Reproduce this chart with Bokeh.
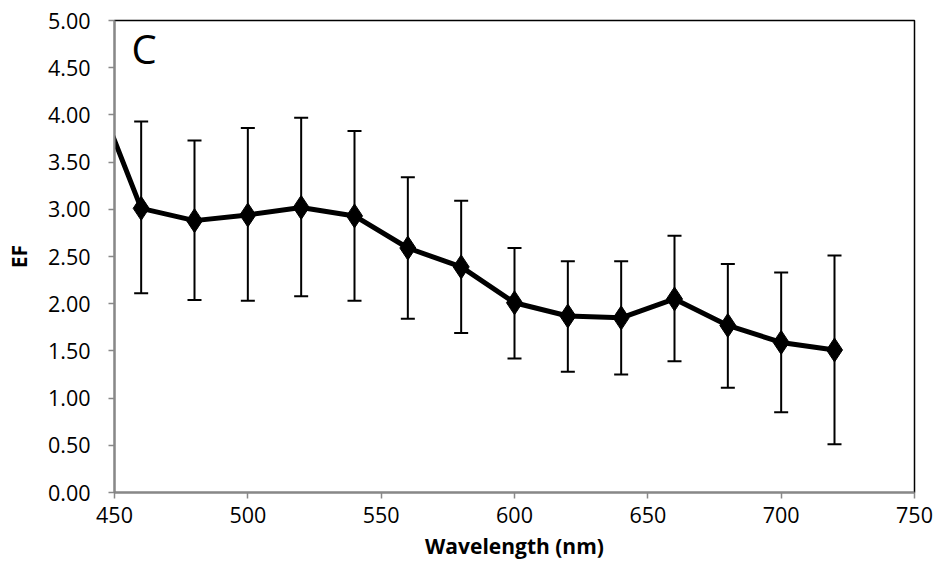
from bokeh.plotting import figure
from bokeh.models import ColumnDataSource, Whisker, Range1d, FixedTicker, Label, CustomJSTickFormatter
from bokeh.embed import file_html
from bokeh.resources import INLINE

wavelength = [440, 460, 480, 500, 520, 540, 560, 580, 600, 620, 640, 660, 680, 700, 720]
ef = [4.45, 3.01, 2.88, 2.94, 3.02, 2.93, 2.59, 2.39, 2.01, 1.87, 1.85, 2.05, 1.77, 1.59, 1.51]
ef_upper = [5.30, 3.93, 3.73, 3.86, 3.97, 3.83, 3.34, 3.09, 2.59, 2.45, 2.45, 2.72, 2.42, 2.33, 2.51]
ef_lower = [3.60, 2.11, 2.04, 2.03, 2.08, 2.03, 1.84, 1.69, 1.42, 1.28, 1.25, 1.39, 1.11, 0.85, 0.51]
x_ticks = [450, 500, 550, 600, 650, 700, 750]
y_ticks = [0, 0.5, 1, 1.5, 2, 2.5, 3, 3.5, 4, 4.5, 5]

FONT = "Open Sans"

src = ColumnDataSource(dict(x=wavelength, y=ef, upper=ef_upper, lower=ef_lower))

p = figure(frame_width=800, frame_height=472, output_backend="svg", toolbar_location=None,
           x_range=Range1d(450, 750), y_range=Range1d(0, 5),
           min_border_left=114, min_border_right=20, min_border_top=20, min_border_bottom=65)
p.background_fill_color = "white"
p.border_fill_color = "white"
p.outline_line_color = "black"
p.outline_line_width = 1.5
p.xgrid.visible = False
p.ygrid.visible = False

w = Whisker(source=src, base="x", upper="upper", lower="lower", dimension="height",
            line_color="black", line_width=2)
w.upper_head.size = 14
w.lower_head.size = 14
w.upper_head.line_width = 2
w.lower_head.line_width = 2
p.add_layout(w)

p.line("x", "y", source=src, line_color="black", line_width=5)
p.scatter("x", "y", source=src, marker="diamond", size=24, fill_color="black", line_color="black")

for ax in (p.xaxis[0], p.yaxis[0]):
    ax.axis_line_color = "#888888"
    ax.axis_line_width = 2
    ax.major_tick_line_color = "#888888"
    ax.major_tick_line_width = 1.5
    ax.major_tick_out = 6
    ax.major_tick_in = 0
    ax.minor_tick_line_color = None
    ax.major_label_text_font = FONT
    ax.major_label_text_font_size = "21.5px"
    ax.major_label_text_color = "black"
    ax.axis_label_text_font = FONT
    ax.axis_label_text_font_size = "21px"
    ax.axis_label_text_font_style = "bold"
    ax.axis_label_text_color = "black"

p.xaxis[0].ticker = FixedTicker(ticks=x_ticks)
p.yaxis[0].ticker = FixedTicker(ticks=y_ticks)
p.yaxis[0].formatter = CustomJSTickFormatter(code="return tick.toFixed(2);")
p.xaxis[0].axis_label = "Wavelength (nm)"
p.yaxis[0].axis_label = "EF"
p.xaxis[0].major_label_standoff = 8
p.xaxis[0].axis_label_standoff = 6
p.yaxis[0].major_label_standoff = 18
p.yaxis[0].axis_label_standoff = 12

p.add_layout(Label(x=17, y=417, x_units="screen", y_units="screen", text="C",
                   text_font=FONT, text_font_size="40px", text_color="black"))

open("out.html", "w").write(file_html(p, INLINE))
